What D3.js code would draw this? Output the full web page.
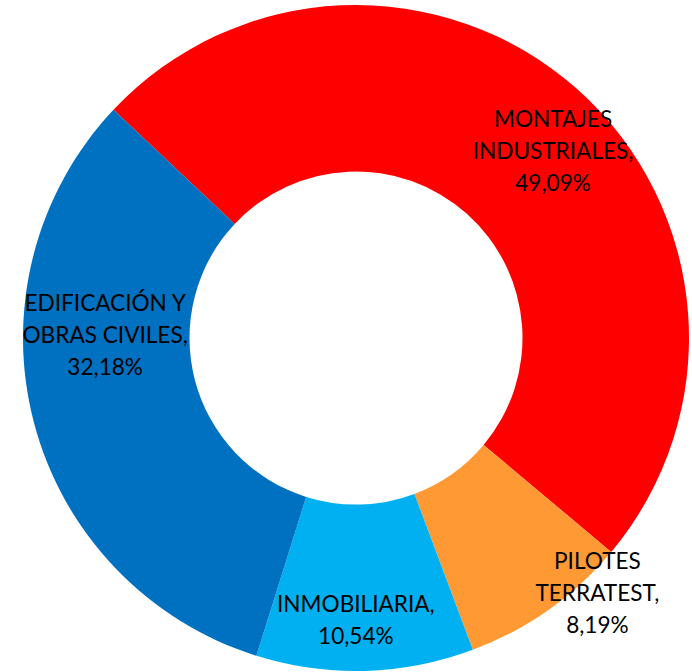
<!DOCTYPE html>
<html>
<head>
<meta charset="utf-8">
<script src="https://cdn.jsdelivr.net/npm/d3@7"></script>
<style>
  body { margin: 0; background: #fff; }
  svg text { font-family: Lato, "Open Sans", sans-serif; fill: #000; }
</style>
</head>
<body>
<div id="chart"></div>
<script>
// data, in the order Excel draws the slices (clockwise)
var categories = ['MONTAJES INDUSTRIALES', 'PILOTES TERRATEST', 'INMOBILIARIA', 'EDIFICACIÓN Y OBRAS CIVILES'];
var values = [49.09, 8.19, 10.54, 32.18];
var labelLines = [
  ['MONTAJES', 'INDUSTRIALES,', '49,09%'],
  ['PILOTES', 'TERRATEST,', '8,19%'],
  ['INMOBILIARIA,', '10,54%'],
  ['EDIFICACIÓN Y', 'OBRAS CIVILES,', '32,18%']
];
var colors = ['#FF0000', '#FF9933', '#00B0F0', '#0070C0'];

var width = 692;
var height = 672;
var cx = 356, cy = 338;
var outer_r = 333;
var inner_r = 166.5;
var font_size = 22.6;
var line_h = 32;

// label nudges away from the slice centroid (labels were dragged by hand)
var nudges = [[31, 0], [97, 51], [-7, 32], [-9, -66]];

var svg = d3.select('#chart').append('svg')
    .attr('width', width)
    .attr('height', height);

var g = svg.append('g')
    .attr('transform', 'translate(' + cx + ',' + cy + ')');

var pie = d3.pie()
    .sort(null)
    .startAngle(-46.75 * Math.PI / 180)
    .endAngle((360 - 46.75) * Math.PI / 180);

var arcs = pie(values);

var arc = d3.arc()
    .innerRadius(inner_r)
    .outerRadius(outer_r);

var labelArc = d3.arc()
    .innerRadius(250)
    .outerRadius(250);

g.selectAll('path.slice')
    .data(arcs)
    .enter()
      .append('path')
      .attr('class', 'slice')
      .attr('d', arc)
      .attr('fill', (d, i) => colors[i]);

var labels = g.selectAll('text.label')
    .data(arcs)
    .enter()
      .append('text')
      .attr('class', 'label')
      .attr('text-anchor', 'middle')
      .style('font-size', font_size + 'px')
      .attr('transform', function(d, i) {
        var c = labelArc.centroid(d);
        var n = labelLines[i].length;
        // move so the block of lines is centred on the point (cap-height centred)
        var y0 = c[1] + nudges[i][1] - (n - 1) * line_h / 2 + font_size * 0.72 / 2;
        return 'translate(' + (c[0] + nudges[i][0]) + ',' + y0 + ')';
      });

labels.selectAll('tspan')
    .data((d, i) => labelLines[i])
    .enter()
      .append('tspan')
      .attr('x', 0)
      .attr('y', (t, j) => j * line_h)
      .text(t => t);
</script>
</body>
</html>
